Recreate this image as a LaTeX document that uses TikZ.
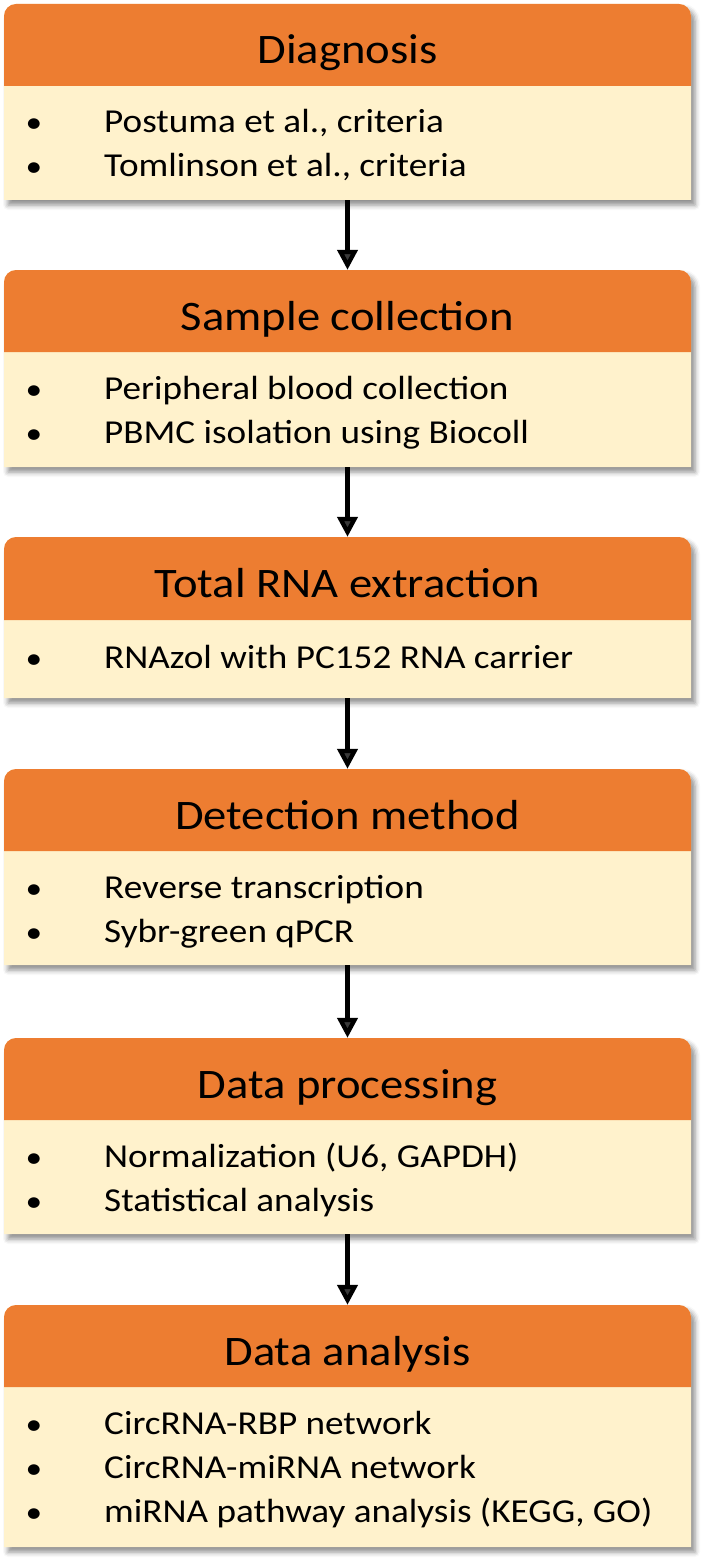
\documentclass[tikz,border=0pt]{standalone}
\usepackage{fontspec}
\setmainfont{Carlito}[FakeStretch=1.11]
\usetikzlibrary{arrows.meta,shadows.blur,fit}
\pgfdeclarelayer{background}
\pgfsetlayers{background,main}
\definecolor{headorange}{RGB}{237,125,49}
\definecolor{bodycream}{RGB}{255,242,204}
\tikzset{
  headtext/.style={anchor=base, inner sep=0pt, font=\fontsize{42}{50}\selectfont},
  itemtext/.style={anchor=base west, inner sep=0pt, font=\fontsize{33.5}{40}\selectfont},
  bullettext/.style={anchor=base, inner sep=0pt, font=\fontsize{30}{40}\selectfont},
  boxshadow/.style={blur shadow={shadow xshift=4pt, shadow yshift=-5pt, shadow blur radius=5pt, shadow opacity=45}},
  flowarrow/.style={line width=4.3pt, -{Triangle[width=20pt,length=20pt]}},
  frame/.style={inner sep=0pt, draw=none}
}
% #1 name, #2 top, #3 header bottom, #4 bottom, #5 title
\newcommand\flowbox[5]{%
  \node[frame, fit={(4,-#2) (691,-#4)}] (#1) {};
  \begin{pgfonlayer}{background}
    \fill[bodycream, boxshadow] (4,-#4) -- (4,{-#2-12}) arc[start angle=180,end angle=90,radius=12pt]
      -- (679,-#2) arc[start angle=90,end angle=0,radius=12pt] -- (691,-#4) -- cycle;
    \fill[headorange] (4,-#3) -- (4,{-#2-12}) arc[start angle=180,end angle=90,radius=12pt]
      -- (679,-#2) arc[start angle=90,end angle=0,radius=12pt] -- (691,-#3) -- cycle;
  \end{pgfonlayer}
  \node[headtext] (#1t) at (347.5,{-#2-60}) {#5};
}
% #1 name, #2 baseline, #3 text
\newcommand\flowitem[3]{%
  \node[bullettext] (#1b) at (34,-#2) {\textbullet};
  \node[itemtext] (#1) at (104,-#2) {#3};
}
\begin{document}
\begin{tikzpicture}[x=1pt,y=1pt]
\useasboundingbox (0,0) rectangle (709,-1565);
\flowbox{box1}{4}{86}{200}{Diagnosis}
\flowitem{i1a}{133}{Postuma et al., criteria}
\flowitem{i1b}{177}{Tomlinson et al., criteria}

\flowbox{box2}{270}{352}{467}{Sample collection}
\flowitem{i2a}{399}{Peripheral blood collection}
\flowitem{i2b}{443}{PBMC isolation using Biocoll}

\flowbox{box3}{537}{620}{698}{Total RNA extraction}
\flowitem{i3a}{668}{RNAzol with PC152 RNA carrier}

\flowbox{box4}{769}{851}{965}{Detection method}
\flowitem{i4a}{898}{Reverse transcription}
\flowitem{i4b}{942}{Sybr-green qPCR}

\flowbox{box5}{1038}{1120}{1234}{Data processing}
\flowitem{i5a}{1167}{Normalization (U6, GAPDH)}
\flowitem{i5b}{1211}{Statistical analysis}

\flowbox{box6}{1305}{1387}{1547}{Data analysis}
\flowitem{i6a}{1434}{CircRNA-RBP network}
\flowitem{i6b}{1478}{CircRNA-miRNA network}
\flowitem{i6c}{1522}{miRNA pathway analysis (KEGG, GO)}

\draw[flowarrow] (box1.south) -- (box2.north);
\draw[flowarrow] (box2.south) -- (box3.north);
\draw[flowarrow] (box3.south) -- (box4.north);
\draw[flowarrow] (box4.south) -- (box5.north);
\draw[flowarrow] (box5.south) -- (box6.north);
\end{tikzpicture}
\end{document}
